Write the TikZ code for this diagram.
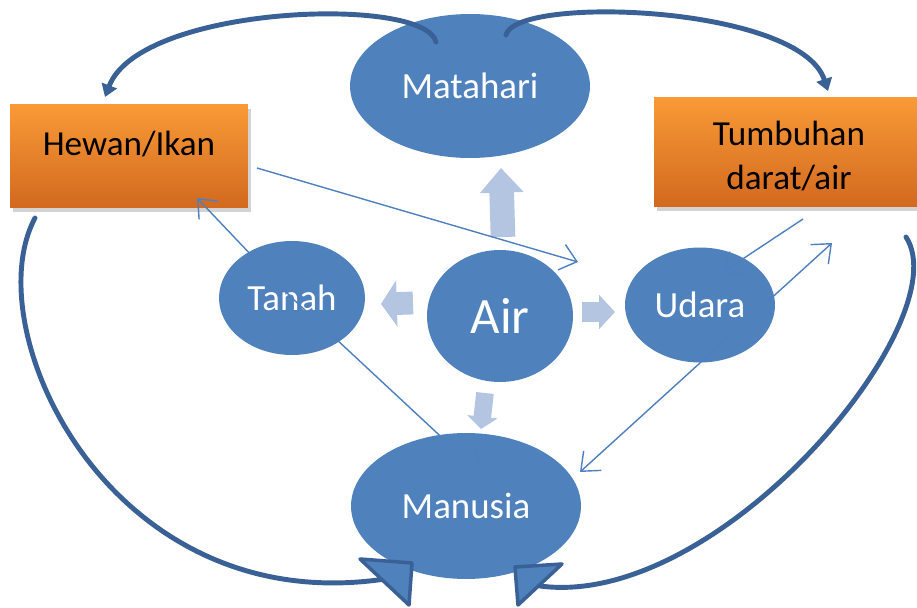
\documentclass[tikz,border=0pt]{standalone}
\usepackage{fontspec}
\setmainfont{Carlito}
\usetikzlibrary{arrows.meta,shapes.geometric,shadows}
\definecolor{ovalblue}{HTML}{4F81BD}
\definecolor{darkblue}{HTML}{3A6196}
\definecolor{paleblue}{HTML}{B4C5E1}
\definecolor{linkblue}{HTML}{4E80C0}
\definecolor{boxtop}{HTML}{F99A36}
\definecolor{boxbot}{HTML}{D2691F}
\begin{document}
\begin{tikzpicture}[x=0.02cm, y=-0.02cm,
  oval/.style={ellipse, fill=ovalblue, inner sep=0pt, text=white, font=\fontsize{21}{25}\selectfont},
  box/.style={rectangle, top color=boxtop, bottom color=boxbot, inner sep=0pt,
    drop shadow={shadow xshift=1.5pt, shadow yshift=-2.5pt, opacity=0.35}},
  boxtext/.style={inner sep=0pt, font=\fontsize{20}{25}\selectfont, align=center},
  flow/.style={darkblue, line width=2.8pt, line cap=round},
  bighead/.style={darkblue, line width=2pt, line join=round, fill=ovalblue},
  link/.style={linkblue, line width=0.8pt},
  barb/.tip={Straight Barb[length=9pt, width=15pt]},
  block/.style={paleblue, line width=#1}]
  \useasboundingbox (0,0) rectangle (917,608);

  % nodes
  \node[oval, minimum width=4.8cm, minimum height=2.88cm] (matahari) at (470,86) {Matahari};
  \node[oval, minimum width=2.92cm, minimum height=2.28cm] (tanah) at (292,298) {Tanah};
  \node[oval, minimum width=2.92cm, minimum height=2.64cm, font=\fontsize{29}{34}\selectfont] (air) at (500,316) {Air};
  \node[oval, minimum width=3cm, minimum height=2.3cm] (udara) at (700,305) {Udara};
  \node[oval, minimum width=4.6cm, minimum height=2.92cm] (manusia) at (466,506) {Manusia};
  \node[box, minimum width=4.76cm, minimum height=2.06cm] (hewan) at (129,156) {};
  \node[boxtext] (hewanlbl) at ([yshift=7pt]hewan.center) {Hewan/Ikan};
  \node[box, minimum width=5.4cm, minimum height=2.2cm] (tumbuhan) at (789,152) {};
  \node[boxtext] (tumbuhanlbl) at ([yshift=-2.5pt]tumbuhan.center) {Tumbuhan\\darat/air};

  % free ends
  \coordinate (sunL) at (436,42);
  \coordinate (sunR) at (506,35);
  \coordinate (hewanTip) at (105,97);
  \coordinate (tumbuhanTip) at (828,91);
  \coordinate (hewanOut) at (35,218);
  \coordinate (tumbuhanOut) at (906,237);
  \coordinate (manL) at (385,579);
  \coordinate (manR) at (540,586);

  % water goes everywhere
  \draw[block=14pt, -{Triangle[length=14pt, width=24pt]}] (503,237) -- (501,168);
  \draw[block=13pt, -{Triangle[length=9pt, width=26pt]}] (413,303) -- (381,304);
  \draw[block=11pt, -{Triangle[length=9pt, width=19pt]}] (582,312) -- (615,312);
  \draw[block=10pt, -{Triangle[length=7pt, width=17pt]}] (485,393) -- (481,429);

  % sun to living things
  \draw[flow, -{Triangle[length=7pt, width=9pt]}] (sunL) .. controls (425,-5) and (140,5) .. (hewanTip);
  \draw[flow, -{Triangle[length=7pt, width=9pt]}] (sunR) .. controls (515,-5) and (800,5) .. (tumbuhanTip);

  % living things to people
  \draw[flow] (hewanOut) .. controls (-25,330) and (110,620) .. (manL);
  \draw[flow] (tumbuhanOut) .. controls (960,320) and (720,610) .. (manR);
  \draw[bighead] (360,559) -- (412,563) -- (409,605) -- cycle;
  \draw[bighead] (515,567) -- (562,564) -- (518,605) -- cycle;

  % thin links
  \coordinate (h1) at (257,168);
  \coordinate (a1) at (578,262);
  \coordinate (t2h) at (197,198);
  \coordinate (t2m) at (480,473);
  \coordinate (tb) at (803,219);
  \coordinate (ut) at (723,272);
  \coordinate (mt) at (580,472);
  \coordinate (tm) at (832,243);
  \draw[link, -barb] (h1) -- (a1);
  \draw[link, -barb] (tanah.center) -- (t2h);
  \draw[link, -barb] (tanah.center) -- (t2m);
  \draw[link, -barb] (tb) -- (ut);
  \draw[link, barb-barb] (mt) -- (tm);
\end{tikzpicture}
\end{document}
